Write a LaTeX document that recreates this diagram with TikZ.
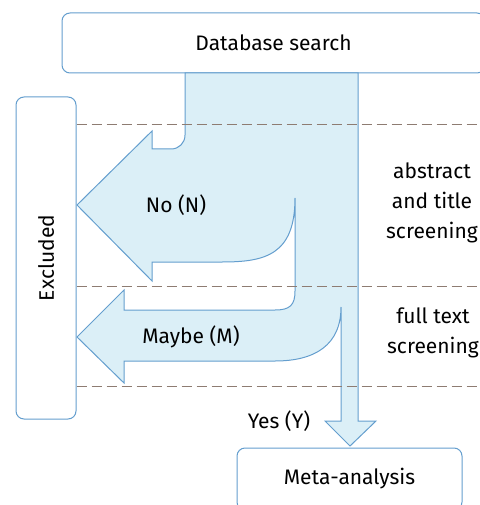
\documentclass[tikz,border=0pt]{standalone}
\usepackage{fontspec}
\setmainfont{Fira Sans}
\usetikzlibrary{positioning,calc}
\definecolor{flowblue}{RGB}{100,158,206}
\definecolor{flowfill}{RGB}{219,239,247}
\definecolor{stagegray}{RGB}{142,124,114}
\tikzset{
  stagebox/.style={draw=flowblue,line width=1pt,rounded corners=8pt,fill=white,inner sep=0pt},
  flow/.style={draw=flowblue,line width=1pt,fill=flowfill,line join=miter},
  stageline/.style={draw=stagegray,line width=1pt,dash pattern=on 10pt off 5pt},
  txt/.style={inner sep=0pt,align=center}
}

\begin{document}
\begin{tikzpicture}[x=1pt,y=-1pt,font=\fontsize{21}{30}\selectfont]
\useasboundingbox (0,0) rectangle (479,505);
% boxes
\node[stagebox,minimum width=423pt,minimum height=60pt] (dbsearch) at (273.5,43) {Database search};
\node[stagebox,minimum width=322pt,minimum height=60pt,rotate=90] (excluded) at (46,258) {Excluded};
\node[stagebox,minimum width=225pt,minimum height=62pt] (meta) at (349.5,479) {Meta-analysis};
% the flow, split into No, Maybe and Yes
\draw[flow] (185,73) -- (185,135) .. controls (185,143) and (179,149) .. (171,149)
  -- (152,149) -- (152,131) -- (77,205) -- (152,281) -- (152,262) -- (222,262)
  .. controls (265,262) and (295,255) .. (295,198)
  -- (295,291) .. controls (295,305) and (290,310) .. (275,310)
  -- (124,310) -- (124,290) -- (77,337) -- (124,383) -- (124,361) -- (275,361)
  .. controls (315,361) and (341,345) .. (341,307)
  -- (341,421) -- (325,421) -- (350,446) -- (376,421) -- (358,421) -- (358,73) -- cycle;
% stage borders (south is the right side of the turned box)
\foreach \y in {125,286,386}
  \draw[stageline] (excluded.south |- 0,\y) -- (479,\y);
% labels
\node[txt] (nolabel) at (176,205) {No (N)};
\node[txt] (maybelabel) at (191,337) {Maybe (M)};
\node[txt] (yeslabel) at (279,421) {Yes (Y)};
\node[txt] (abstractstage) at (432,203) {abstract\\and title\\screening};
\node[txt] (fulltextstage) at (433,333) {full text\\screening};
\end{tikzpicture}
\end{document}
